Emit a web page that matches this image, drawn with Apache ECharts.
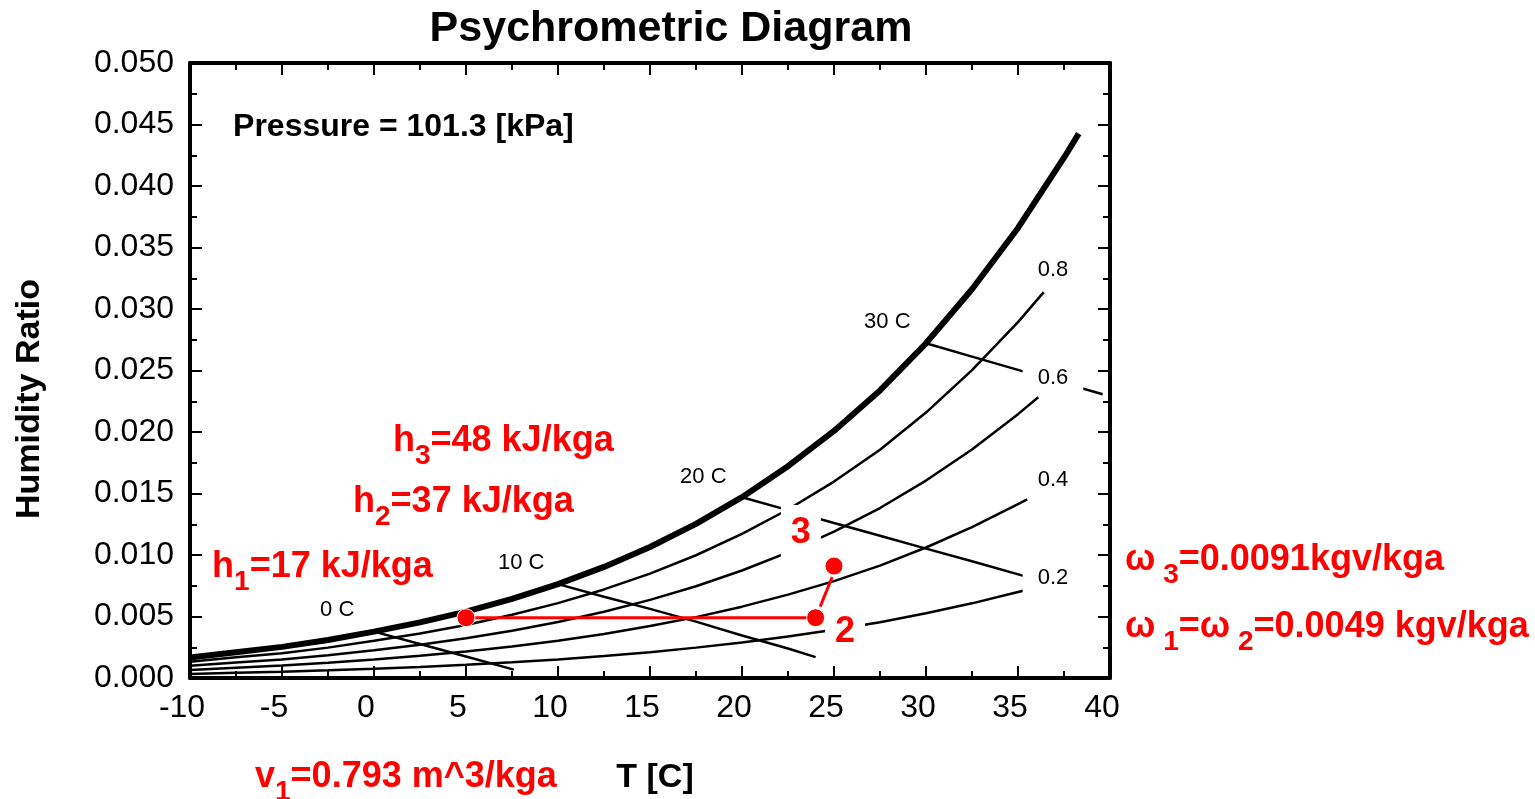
<!DOCTYPE html>
<html>
<head>
<meta charset="utf-8">
<title>Psychrometric Diagram</title>
<script src="https://cdn.jsdelivr.net/npm/echarts@6/dist/echarts.min.js"></script>
<style>
  html, body { margin: 0; padding: 0; background: #fff; }
  #chart { width: 1535px; height: 799px; }
</style>
</head>
<body>
<div id="chart"></div>
<script>
// ---- data (T in C, humidity ratio in kg/kg) ----
var satT = [-10, -7.5, -5, -2.5, 0, 2.5, 5, 7.5, 10, 12.5, 15, 17.5, 20, 22.5, 25, 27.5, 30, 32.5, 35, 37.5, 38.3];
var satW = [0.00166, 0.00210, 0.00253, 0.00309, 0.00377, 0.00452, 0.00540, 0.00643, 0.00763, 0.00903, 0.01065,
            0.01253, 0.01470, 0.01722, 0.02009, 0.02338, 0.02721, 0.03160, 0.03659, 0.04230, 0.04426];

var rhT  = [-10, -7.5, -5, -2.5, 0, 2.5, 5, 7.5, 10, 12.5, 15, 17.5, 20, 22.5, 25, 27.5, 30, 32.5, 35];
var rh80 = [0.00133, 0.00168, 0.00202, 0.00247, 0.00302, 0.00361, 0.00431, 0.00514, 0.00609, 0.00720,
            0.00849, 0.00998, 0.01171, 0.01370, 0.01597, 0.01856, 0.02158, 0.02503, 0.02893];
var rh60 = [0.00100, 0.00126, 0.00151, 0.00185, 0.00226, 0.00271, 0.00323, 0.00384, 0.00456, 0.00538,
            0.00635, 0.00746, 0.00874, 0.01022, 0.01190, 0.01382, 0.01605, 0.01858, 0.02145];
var rh40 = [0.00066, 0.00084, 0.00101, 0.00123, 0.00150, 0.00180, 0.00215, 0.00256, 0.00303, 0.00358,
            0.00422, 0.00495, 0.00580, 0.00678, 0.00788, 0.00914, 0.01061, 0.01227, 0.01414];
var rh20 = [0.00033, 0.00042, 0.00050, 0.00062, 0.00075, 0.00090, 0.00107, 0.00128, 0.00151, 0.00179,
            0.00210, 0.00247, 0.00289, 0.00337, 0.00392, 0.00454, 0.00526, 0.00607, 0.00699];
var rhEndT = [36.4, 36.1, 35.5, 35.5];
var rhEndW = [0.03137, 0.02283, 0.01453, 0.00718];
var rhNames = ['0.8', '0.6', '0.4', '0.2'];

var wb0T  = [0, 2.5, 5, 7.6];
var wb0W  = [0.00377, 0.00276, 0.00175, 0.00068];
var wb10T = [10, 12.5, 15, 17.5, 20, 22.5, 24];
var wb10W = [0.00763, 0.00660, 0.00562, 0.00458, 0.00345, 0.00240, 0.00170];
var wb20T = [20, 22.5, 25, 27.5, 30, 32.5, 35.3];
var wb20W = [0.01470, 0.01365, 0.01260, 0.01156, 0.01052, 0.00949, 0.00830];
var wb30T = [30, 32.5, 35, 37.5, 39.6];
var wb30W = [0.02721, 0.02613, 0.02505, 0.02397, 0.02307];
var wbNames = ['0 C', '10 C', '20 C', '30 C'];

// process states 1, 2, 3
var stateT = [5, 24, 25];
var stateW = [0.0049, 0.0049, 0.0091];
var link23T = [24.25, 24.9];
var link23W = [0.0058, 0.0082];

// where the text notes sit (data units)
var wbLabelT = [-2.0, 8.0, 17.9, 27.9];
var wbLabelW = [0.00553, 0.00935, 0.01634, 0.02894];
var rhLabelT = [36.9, 36.9, 36.9, 36.9];
var rhLabelW = [0.03317, 0.02439, 0.01610, 0.00813];
var stateLabelT = [23.2, 25.6];
var stateLabelW = [0.01179, 0.00374];
var hNoteT = [-8.8, -1.14, 1.03];
var hNoteW = [0.00902, 0.01431, 0.01927];
var hNotes = ['{m|h}{s|1}{m|=17 kJ/kga}', '{m|h}{s|2}{m|=37 kJ/kga}', '{m|h}{s|3}{m|=48 kJ/kga}'];

var FONT = 'Liberation Sans, Arial, sans-serif';
var RED = '#ff0000';

function pairs(xs, ys) {
    return xs.map(function(x, i) { return [x, ys[i]]; });
}

// rich styles: 'color' for series labels, 'fill' for graphic text
var redRich = {
    m: { fontSize: 36, fontWeight: 'bold', color: RED, fill: RED, fontFamily: FONT },
    s: { fontSize: 28, fontWeight: 'bold', color: RED, fill: RED, fontFamily: FONT, padding: [30, 0, 0, 0] }
};

function blackLine(data, width) {
    return {
        type: 'line', data: data, symbol: 'none', silent: true, z: 2,
        lineStyle: { color: '#000', width: width }
    };
}

var series = [];
series.push(blackLine(pairs(satT, satW), 6));
[rh80, rh60, rh40, rh20].forEach(function(arr, i) {
    series.push(blackLine(pairs(rhT, arr).concat([[rhEndT[i], rhEndW[i]]]), 2.5));
});
series.push(blackLine(pairs(wb0T, wb0W), 2.5));
series.push(blackLine(pairs(wb10T, wb10W), 2.5));
series.push(blackLine(pairs(wb20T, wb20W), 2.5));
series.push(blackLine(pairs(wb30T, wb30W), 2.5));

// red process lines and points
series.push({
    type: 'line', symbol: 'none', z: 5, silent: true,
    data: pairs(stateT.slice(0, 2), stateW.slice(0, 2)),
    lineStyle: { color: RED, width: 3 }
});
series.push({
    type: 'line', symbol: 'none', z: 5, silent: true,
    data: pairs(link23T, link23W),
    lineStyle: { color: RED, width: 3 }
});
series.push({
    type: 'scatter', z: 6, silent: true, symbolSize: 18,
    itemStyle: { color: RED, borderColor: '#fff', borderWidth: 1, opacity: 1 },
    data: pairs(stateT, stateW)
});

// text notes
function noteSeries(items, label, z) {
    return { type: 'scatter', symbolSize: 0, silent: true, z: z, data: items, label: label,
             itemStyle: { opacity: 1 } };
}
series.push(noteSeries(wbNames.map(function(n, i) {
    return { name: n, value: [wbLabelT[i], wbLabelW[i]] };
}), { show: true, position: 'inside', formatter: '{b}', color: '#000', fontSize: 22, fontFamily: FONT }, 8));
series.push(noteSeries(rhNames.map(function(n, i) {
    return { name: n, value: [rhLabelT[i], rhLabelW[i]] };
}), { show: true, position: 'inside', formatter: '{b}', color: '#000', fontSize: 22, fontFamily: FONT,
      backgroundColor: '#fff', padding: [4, 15] }, 8));
series.push(noteSeries(['3', '2'].map(function(n, i) {
    return { name: n, value: [stateLabelT[i], stateLabelW[i]] };
}), { show: true, position: 'inside', formatter: '{b}', color: RED, fontSize: 36, fontWeight: 'bold',
      fontFamily: FONT, backgroundColor: '#fff', padding: [10, 10], lineHeight: 36 }, 9));
series.push(noteSeries(hNotes.map(function(n, i) {
    return { name: n, value: [hNoteT[i], hNoteW[i]] };
}), { show: true, position: 'right', distance: 0, formatter: '{b}', rich: redRich }, 9));
series.push(noteSeries([{ name: 'Pressure = 101.3 [kPa]', value: [-7.66, 0.0448] }],
    { show: true, position: 'right', distance: 0, formatter: '{b}', color: '#000', fontSize: 32,
      fontWeight: 'bold', fontFamily: FONT }, 9));

function xAxisOf(pos, labels) {
    return {
        type: 'value', position: pos, min: -10, max: 40, interval: 5,
        axisLine: { show: true, onZero: false, lineStyle: { color: '#000', width: 4 } },
        axisTick: { show: true, inside: true, length: 12, lineStyle: { color: '#000', width: 2 } },
        minorTick: { show: true, splitNumber: 2, length: 7, lineStyle: { color: '#000', width: 2 } },
        splitLine: { show: false },
        axisLabel: { show: labels, color: '#000', fontSize: 32, fontFamily: FONT, margin: 14, padding: [0, 16, 0, 0] }
    };
}
function yAxisOf(pos, labels) {
    return {
        type: 'value', position: pos, min: 0, max: 0.05, interval: 0.005,
        axisLine: { show: true, onZero: false, lineStyle: { color: '#000', width: 4 } },
        axisTick: { show: true, inside: true, length: 12, lineStyle: { color: '#000', width: 2 } },
        minorTick: { show: true, splitNumber: 2, length: 7, lineStyle: { color: '#000', width: 2 } },
        splitLine: { show: false },
        axisLabel: { show: labels, color: '#000', fontSize: 32, fontFamily: FONT, margin: 16,
                     formatter: function(v) { return v.toFixed(3); } }
    };
}

var option = {
    animation: false,
    backgroundColor: '#fff',
    grid: { left: 190, right: 425, top: 63, bottom: 121 },
    xAxis: [xAxisOf('bottom', true), xAxisOf('top', false)],
    yAxis: [yAxisOf('left', true), yAxisOf('right', false)],
    series: series,
    graphic: [
        { type: 'text', x: 671, y: 29, style: { text: 'Psychrometric Diagram', fill: '#000',
            font: 'bold 43px ' + FONT, align: 'center', verticalAlign: 'middle' } },
        { type: 'text', x: 30, y: 399, rotation: Math.PI / 2, style: { text: 'Humidity Ratio', fill: '#000',
            font: 'bold 34px ' + FONT, align: 'center', verticalAlign: 'middle' } },
        { type: 'text', x: 655, y: 778, style: { text: 'T [C]', fill: '#000',
            font: 'bold 34px ' + FONT, align: 'center', verticalAlign: 'middle' } },
        { type: 'text', x: 1125, y: 560, style: { text: '{m|ω}{s| 3}{m|=0.0091kgv/kga}', rich: redRich,
            fill: RED, align: 'left', verticalAlign: 'middle' } },
        { type: 'text', x: 1125, y: 627, style: { text: '{m|ω}{s| 1}{m|=ω}{s| 2}{m|=0.0049 kgv/kga}', rich: redRich,
            fill: RED, align: 'left', verticalAlign: 'middle' } },
        { type: 'text', x: 255, y: 777, style: { text: '{m|v}{s|1}{m|=0.793 m^3/kga}', rich: redRich,
            fill: RED, align: 'left', verticalAlign: 'middle' } }
    ]
};

var myChart = echarts.init(document.getElementById('chart'));
myChart.setOption(option);
</script>
</body>
</html>
